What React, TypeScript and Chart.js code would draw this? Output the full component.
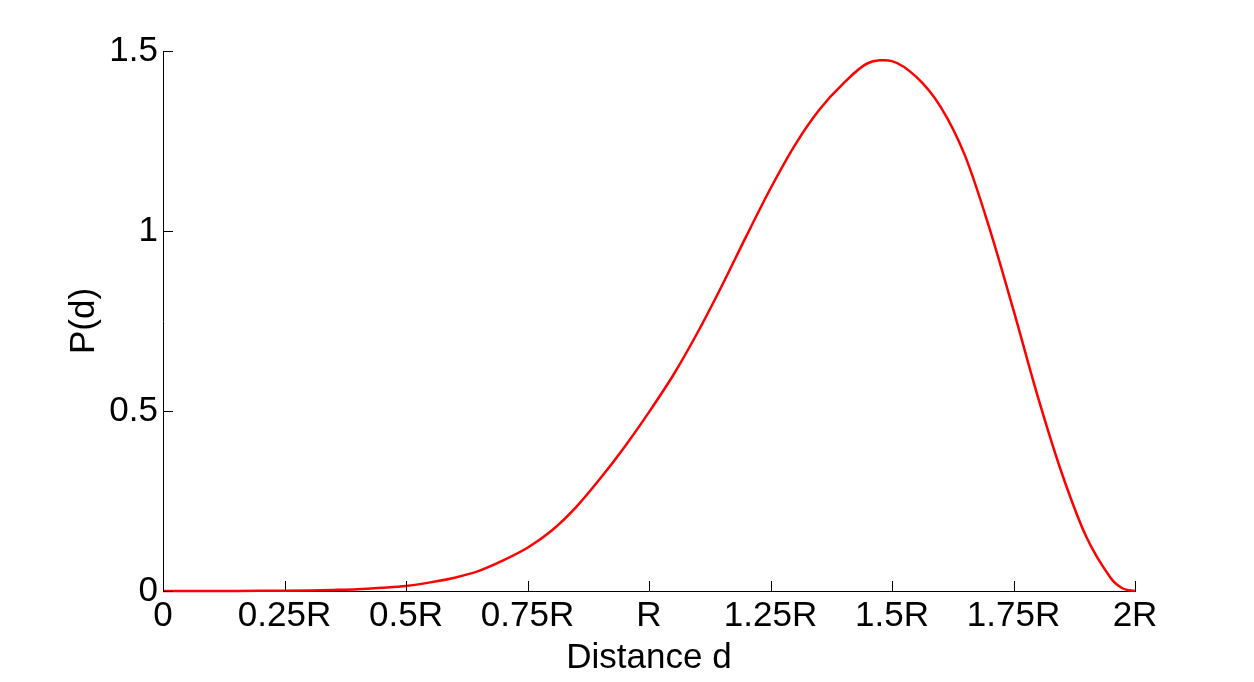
import React, { useEffect, useRef } from "react";
import { Chart, registerables } from "chart.js";

Chart.register(...registerables);

// distance d (in units of R)
const distances: number[] = [
  0, 0.1, 0.2, 0.3, 0.35, 0.4, 0.45, 0.5, 0.55, 0.6, 0.65, 0.7, 0.75, 0.8, 0.85, 0.9, 0.95,
  1.0, 1.05, 1.1, 1.15, 1.2, 1.25, 1.3, 1.35, 1.4, 1.45, 1.5, 1.55, 1.6, 1.65,
  1.7, 1.75, 1.8, 1.85, 1.9, 1.95, 1.975, 2.0,
];
// P(d)
const probability: number[] = [
  0, 0, 0.0005, 0.0015, 0.003, 0.005, 0.009, 0.014, 0.024, 0.037, 0.056, 0.085, 0.12, 0.168, 0.233, 0.313, 0.401,
  0.497, 0.6, 0.718, 0.848, 0.985, 1.118, 1.238, 1.336, 1.41, 1.466, 1.472, 1.428, 1.345, 1.21,
  1.01, 0.78, 0.54, 0.325, 0.15, 0.036, 0.007, 0,
];

const xTickValues: number[] = [0, 0.25, 0.5, 0.75, 1, 1.25, 1.5, 1.75, 2];
const xTickLabels: string[] = ["0", "0.25R", "0.5R", "0.75R", "R", "1.25R", "1.5R", "1.75R", "2R"];
const yTickValues: number[] = [0, 0.5, 1, 1.5];
const yTickLabels: string[] = ["0", "0.5", "1", "1.5"];

const FONT = '"Liberation Sans", Arial, Helvetica, sans-serif';
const FONT_SIZE = 35;

const innerTicks = {
  id: "innerTicks",
  afterDraw(chart: any) {
    const { ctx, scales } = chart;
    const xs = scales.x;
    const ys = scales.y;
    const area = chart.chartArea;
    ctx.save();
    ctx.strokeStyle = "#000";
    ctx.lineWidth = 1;
    ctx.beginPath();
    for (const v of xTickValues) {
      const px = Math.round(xs.getPixelForValue(v)) + 0.5;
      ctx.moveTo(px, area.bottom);
      ctx.lineTo(px, area.bottom - 10);
    }
    for (const v of yTickValues) {
      const py = Math.round(ys.getPixelForValue(v)) + 0.5;
      ctx.moveTo(area.left, py);
      ctx.lineTo(area.left + 10, py);
    }
    ctx.stroke();
    ctx.restore();
  },
};

export default function App() {
  const ref = useRef<HTMLCanvasElement | null>(null);

  useEffect(() => {
    document.body.style.margin = "0";
    if (!ref.current) return;
    const chart = new Chart(ref.current, {
      type: "line",
      data: {
        datasets: [
          {
            data: distances.map((d, i) => ({ x: d, y: probability[i] })),
            borderColor: "#ff0000",
            borderWidth: 2.5,
            pointRadius: 0,
            tension: 0.3,
            fill: false,
            clip: false as any,
          },
        ],
      },
      options: {
        responsive: false,
        animation: false,
        layout: { padding: { left: 0, right: 119, top: 51, bottom: 0 } },
        plugins: {
          legend: { display: false },
          tooltip: { enabled: false },
        },
        scales: {
          x: {
            type: "linear",
            min: 0,
            max: 2,
            afterBuildTicks: (scale: any) => {
              scale.ticks = xTickValues.map((v) => ({ value: v }));
            },
            afterFit: (scale: any) => {
              scale.height = 91;
            },
            grid: { display: false, drawTicks: false },
            border: { display: true, color: "#000", width: 1 },
            ticks: {
              color: "#000",
              padding: 4,
              maxRotation: 0,
              autoSkip: false,
              font: { family: FONT, size: FONT_SIZE },
              callback: (v: any) => {
                const i = xTickValues.indexOf(Number(v));
                return i >= 0 ? xTickLabels[i] : "";
              },
            },
            title: {
              display: true,
              text: "Distance d",
              color: "#000",
              font: { family: FONT, size: FONT_SIZE },
              padding: { top: 0, bottom: 3 },
            },
          },
          y: {
            type: "linear",
            min: 0,
            max: 1.5,
            afterBuildTicks: (scale: any) => {
              scale.ticks = yTickValues.map((v) => ({ value: v }));
            },
            afterFit: (scale: any) => {
              scale.width = 163;
            },
            grid: { display: false, drawTicks: false },
            border: { display: true, color: "#000", width: 1 },
            ticks: {
              color: "#000",
              padding: 5,
              autoSkip: false,
              font: { family: FONT, size: FONT_SIZE },
              callback: (v: any) => {
                const i = yTickValues.indexOf(Number(v));
                return i >= 0 ? yTickLabels[i] : "";
              },
            },
            title: {
              display: true,
              text: "P(d)",
              color: "#000",
              font: { family: FONT, size: FONT_SIZE },
              padding: { top: 63, bottom: 0 },
            },
          },
        },
      },
      plugins: [innerTicks],
    });
    return () => chart.destroy();
  }, []);

  return (
    <div style={{ width: 1254, height: 682, background: "#fff" }}>
      <canvas ref={ref} width={1254} height={682} style={{ display: "block" }} />
    </div>
  );
}
